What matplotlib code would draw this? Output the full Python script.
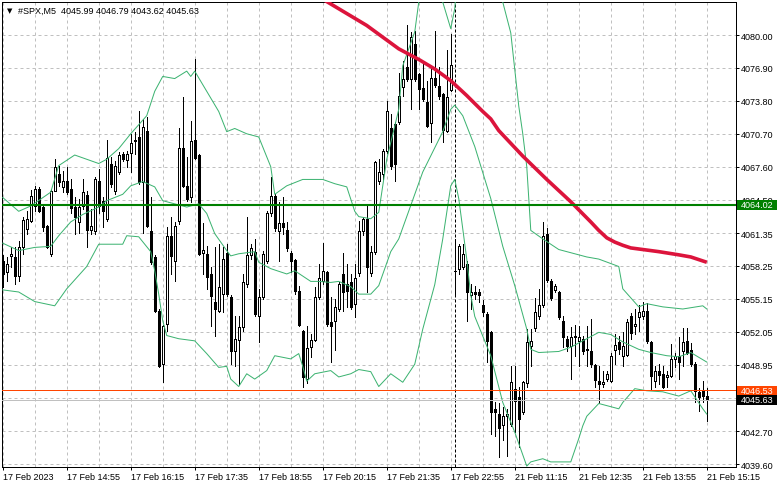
import numpy as np
import matplotlib
matplotlib.use("Agg")
import matplotlib.pyplot as plt
import matplotlib.transforms as mtransforms
from matplotlib.patches import Rectangle

plt.rcParams['font.family'] = ['Liberation Sans', 'DejaVu Sans']

# ---- data (#SPX M5) ----
symbol = "#SPX,M5"
last_ohlc = [4045.99, 4046.79, 4043.62, 4045.63]

opens = [
    4058.7, 4057.7, 4059.2, 4059.1, 4057.3, 4060.0, 4061.7, 4062.5, 4063.9, 4065.5,
    4063.8, 4062.0, 4059.4, 4065.3, 4066.9, 4065.7, 4066.3, 4065.5, 4063.8, 4062.4,
    4063.9, 4064.9, 4061.6, 4061.5, 4066.3, 4064.4, 4062.7, 4067.9, 4065.3, 4067.1,
    4068.8, 4068.2, 4068.9, 4070.1, 4070.4, 4066.2, 4071.0, 4061.5, 4059.1, 4054.0,
    4049.0, 4052.8, 4061.1, 4058.7, 4062.5, 4069.4, 4065.8, 4064.7, 4070.1, 4068.7,
    4059.5, 4059.4, 4057.5, 4054.9, 4054.0, 4055.6, 4059.5, 4055.3, 4050.2, 4051.3,
    4052.5, 4056.6, 4059.3, 4059.6, 4053.5, 4055.3, 4058.7, 4063.2, 4064.8, 4061.5,
    4062.3, 4061.6, 4059.5, 4058.8, 4055.9, 4052.1, 4047.6, 4050.6, 4051.3, 4055.3,
    4056.8, 4057.7, 4053.0, 4053.1, 4054.2, 4057.5, 4056.6, 4056.7, 4054.7, 4057.6,
    4061.5, 4062.7, 4057.6, 4059.6, 4066.3, 4066.9, 4069.1, 4071.2, 4071.6, 4071.8,
    4075.1, 4077.0, 4075.9, 4079.2, 4076.3, 4075.0, 4073.7, 4071.7, 4076.0, 4075.2,
    4074.4, 4071.0, 4074.8, 4057.8, 4058.0, 4058.2, 4058.4, 4055.5, 4055.8, 4055.8,
    4054.6, 4053.7, 4052.0, 4044.8, 4044.3, 4043.3, 4044.1, 4043.4, 4046.7, 4045.9,
    4044.5, 4047.2, 4050.7, 4052.4, 4053.5, 4054.6, 4061.3, 4056.8, 4056.0, 4055.8,
    4053.1, 4051.4, 4050.7, 4051.6, 4051.2, 4051.4, 4050.4, 4050.2, 4048.9, 4047.4,
    4047.1, 4047.6, 4047.4, 4050.3, 4051.1, 4049.8, 4049.9, 4053.5, 4052.6, 4053.4,
    4053.5, 4054.0, 4051.1, 4047.4, 4048.4, 4048.1, 4047.8, 4047.9, 4049.5, 4049.8,
    4050.2, 4051.2, 4050.3, 4049.0, 4046.4, 4046.5, 4045.99,
]
highs = [
    4059.3, 4059.1, 4060.0, 4060.0, 4060.6, 4062.9, 4063.4, 4065.4, 4065.8, 4065.7,
    4064.1, 4062.1, 4065.5, 4068.3, 4067.7, 4067.2, 4067.6, 4066.4, 4064.7, 4064.6,
    4066.4, 4065.3, 4063.6, 4066.6, 4067.4, 4064.7, 4070.1, 4068.5, 4068.1, 4069.0,
    4069.0, 4069.1, 4070.7, 4070.9, 4072.8, 4072.1, 4072.3, 4064.7, 4059.3, 4054.2,
    4052.7, 4061.9, 4062.9, 4062.4, 4071.2, 4074.2, 4068.5, 4071.9, 4077.7, 4068.8,
    4062.3, 4060.1, 4058.2, 4060.0, 4060.3, 4060.0, 4060.3, 4055.5, 4053.5, 4053.5,
    4057.5, 4062.9, 4060.3, 4060.8, 4056.1, 4059.7, 4063.4, 4066.6, 4065.0, 4064.3,
    4064.7, 4062.4, 4059.7, 4058.9, 4056.4, 4052.2, 4052.6, 4051.8, 4056.3, 4058.4,
    4060.4, 4057.8, 4055.3, 4055.1, 4056.7, 4059.5, 4058.4, 4057.5, 4058.4, 4062.5,
    4062.9, 4063.9, 4060.1, 4068.1, 4068.3, 4069.3, 4073.8, 4072.6, 4071.8, 4076.4,
    4077.6, 4080.9, 4080.3, 4080.4, 4076.4, 4077.3, 4075.7, 4077.1, 4080.4, 4077.0,
    4074.5, 4078.6, 4080.1, 4060.8, 4060.3, 4060.3, 4058.7, 4056.6, 4056.4, 4056.1,
    4055.0, 4053.9, 4052.1, 4045.4, 4045.3, 4045.0, 4044.8, 4048.8, 4048.8, 4046.9,
    4047.4, 4052.3, 4052.3, 4055.2, 4056.1, 4062.4, 4061.8, 4057.0, 4056.6, 4055.9,
    4053.5, 4051.7, 4052.5, 4052.7, 4052.6, 4051.7, 4052.6, 4053.3, 4049.0, 4048.8,
    4048.4, 4048.4, 4050.1, 4051.8, 4051.7, 4052.0, 4053.3, 4053.8, 4054.2, 4054.6,
    4054.9, 4054.8, 4051.2, 4048.8, 4049.0, 4048.8, 4048.4, 4050.9, 4050.1, 4051.6,
    4052.4, 4052.4, 4051.0, 4049.2, 4046.8, 4047.4, 4046.79,
]
lows = [
    4056.3, 4056.8, 4058.2, 4056.6, 4056.8, 4059.4, 4061.3, 4062.4, 4063.4, 4063.3,
    4061.5, 4059.9, 4059.2, 4065.3, 4065.8, 4065.2, 4065.0, 4063.2, 4061.3, 4061.4,
    4063.6, 4060.0, 4061.3, 4061.3, 4063.2, 4061.9, 4062.5, 4065.7, 4065.0, 4066.9,
    4068.1, 4067.6, 4067.1, 4068.8, 4066.0, 4061.4, 4061.9, 4058.4, 4053.9, 4048.7,
    4047.3, 4052.1, 4057.5, 4056.8, 4062.2, 4065.7, 4064.4, 4064.3, 4068.3, 4059.3,
    4057.5, 4056.1, 4052.6, 4051.7, 4053.9, 4053.9, 4055.4, 4049.0, 4048.8, 4047.1,
    4052.1, 4056.3, 4058.9, 4053.5, 4051.1, 4055.1, 4058.5, 4063.0, 4061.5, 4058.7,
    4061.3, 4059.7, 4057.7, 4055.6, 4052.6, 4046.9, 4047.2, 4049.7, 4051.2, 4055.1,
    4056.6, 4052.6, 4049.2, 4050.3, 4054.0, 4054.0, 4054.4, 4054.2, 4053.4, 4057.3,
    4061.2, 4055.8, 4057.3, 4059.4, 4066.0, 4066.4, 4068.9, 4067.4, 4066.3, 4071.6,
    4074.3, 4075.7, 4073.0, 4075.7, 4073.0, 4073.8, 4071.3, 4069.9, 4075.1, 4074.0,
    4069.9, 4070.9, 4074.7, 4055.4, 4057.5, 4058.0, 4053.1, 4054.2, 4055.1, 4054.9,
    4053.5, 4049.2, 4042.4, 4042.2, 4040.3, 4041.9, 4040.4, 4043.2, 4042.6, 4041.2,
    4044.3, 4046.9, 4048.8, 4052.1, 4053.3, 4054.4, 4056.7, 4055.0, 4055.8, 4053.3,
    4050.6, 4050.2, 4047.6, 4049.8, 4048.8, 4050.0, 4048.8, 4048.7, 4046.9, 4045.3,
    4046.9, 4047.4, 4047.3, 4049.0, 4050.0, 4048.8, 4049.8, 4051.4, 4051.8, 4052.1,
    4053.3, 4051.0, 4046.7, 4046.9, 4047.1, 4046.8, 4046.9, 4047.8, 4048.7, 4047.6,
    4048.8, 4050.0, 4048.8, 4045.4, 4044.6, 4045.4, 4043.62,
]
closes = [
    4057.5, 4058.4, 4059.4, 4057.3, 4060.0, 4062.6, 4062.7, 4064.8, 4065.5, 4063.4,
    4061.9, 4060.0, 4065.3, 4067.6, 4066.2, 4066.3, 4065.2, 4063.7, 4062.9, 4063.8,
    4065.2, 4061.6, 4062.0, 4066.4, 4063.9, 4063.4, 4068.4, 4066.0, 4067.7, 4068.7,
    4068.3, 4068.8, 4069.8, 4070.0, 4066.2, 4071.3, 4062.0, 4058.6, 4054.0, 4048.8,
    4052.6, 4061.1, 4059.2, 4062.0, 4069.4, 4065.8, 4064.6, 4070.0, 4068.4, 4059.4,
    4059.8, 4057.2, 4055.4, 4054.2, 4056.3, 4058.9, 4055.6, 4050.2, 4051.4, 4052.5,
    4056.7, 4059.3, 4059.9, 4053.7, 4055.3, 4059.4, 4063.2, 4064.8, 4061.8, 4062.3,
    4061.9, 4059.9, 4058.7, 4055.9, 4052.7, 4047.8, 4050.5, 4051.3, 4055.3, 4057.1,
    4057.8, 4052.8, 4052.6, 4054.4, 4056.6, 4055.8, 4055.9, 4054.4, 4057.1, 4061.5,
    4062.7, 4058.2, 4059.6, 4068.0, 4067.1, 4069.1, 4072.8, 4067.7, 4067.9, 4074.3,
    4075.9, 4075.9, 4079.8, 4075.9, 4074.9, 4074.0, 4071.4, 4076.0, 4075.3, 4074.3,
    4071.1, 4074.2, 4077.2, 4057.8, 4060.1, 4059.4, 4055.8, 4055.8, 4055.6, 4055.5,
    4053.9, 4051.2, 4044.5, 4044.5, 4043.0, 4044.1, 4044.3, 4047.3, 4045.5, 4043.8,
    4047.3, 4051.1, 4051.2, 4053.9, 4054.6, 4061.1, 4056.9, 4055.2, 4056.4, 4053.4,
    4051.6, 4050.7, 4051.6, 4051.7, 4051.6, 4050.2, 4050.3, 4049.0, 4047.5, 4047.1,
    4047.3, 4048.1, 4049.8, 4050.8, 4050.4, 4050.7, 4053.0, 4051.9, 4052.8, 4053.9,
    4054.0, 4051.2, 4047.9, 4048.4, 4048.0, 4046.9, 4048.0, 4049.5, 4049.8, 4049.2,
    4051.1, 4050.1, 4049.0, 4046.5, 4045.9, 4046.0, 4045.63,
]

# x tick labels, one every 16 bars
time_labels = ["17 Feb 2023", "17 Feb 14:55", "17 Feb 16:15", "17 Feb 17:35",
               "17 Feb 18:55", "17 Feb 20:15", "17 Feb 21:35", "17 Feb 22:55",
               "21 Feb 11:15", "21 Feb 12:35", "21 Feb 13:55", "21 Feb 15:15"]
price_ticks = ["4080.00", "4076.90", "4073.80", "4070.70", "4067.60", "4064.50",
               "4061.35", "4058.25", "4055.15", "4052.05", "4048.95", "4045.85",
               "4042.70", "4039.60"]
session_break = 113  # first bar of 21 Feb

# Bollinger bands, sampled (bar index, price)
bb_upper_bars = [0, 4, 7, 12, 14, 18, 24, 26, 29, 32, 36, 38, 40, 43, 46, 47, 48, 51,
                 54, 56, 58, 61, 63, 64, 67, 68, 71, 75, 80, 83, 86, 88, 89, 92, 94,
                 96, 99, 100, 103, 104, 106, 108, 110, 112, 113, 115, 118, 121, 124,
                 125, 127, 129, 130, 131, 132, 135, 139, 146, 149, 154, 155, 159, 161,
                 165, 170, 175, 176]
bb_upper = [4064.7, 4063.4, 4063.9, 4065.2, 4067.7, 4068.7, 4067.9, 4068.3, 4069.3,
            4070.7, 4072.4, 4074.7, 4076.1, 4075.9, 4076.6, 4076.1, 4076.6, 4074.7,
            4072.8, 4070.9, 4071.2, 4070.7, 4070.5, 4070.4, 4067.6, 4065.0, 4065.8,
            4066.4, 4066.4, 4066.0, 4065.7, 4063.4, 4062.9, 4062.7, 4063.3, 4068.3,
            4073.0, 4077.1, 4080.3, 4083.1, 4085.5, 4085.0, 4083.1, 4080.6, 4082.5,
            4092.0, 4094.0, 4092.0, 4086.0, 4083.1, 4080.2, 4073.3, 4070.7, 4067.6,
            4061.6, 4060.8, 4059.8, 4059.1, 4058.9, 4058.2, 4056.1, 4054.4, 4054.7,
            4054.4, 4054.2, 4054.5, 4054.2]
bb_mid_bars = [0, 4, 8, 12, 14, 17, 20, 24, 26, 30, 32, 35, 38, 40, 43, 46, 49, 51, 53,
               56, 57, 59, 63, 64, 67, 71, 73, 75, 77, 79, 82, 84, 87, 89, 92, 94, 97,
               99, 105, 110, 112, 113, 115, 118, 122, 125, 128, 131, 132, 134, 139,
               142, 146, 149, 152, 155, 159, 162, 166, 169, 172, 176]
bb_mid = [4060.4, 4059.7, 4060.0, 4060.1, 4061.1, 4062.4, 4063.1, 4063.8, 4064.4,
          4065.0, 4065.8, 4066.2, 4065.7, 4064.4, 4064.1, 4063.8, 4064.1, 4063.2,
          4061.3, 4059.7, 4059.2, 4059.4, 4059.6, 4058.6, 4058.0, 4057.5, 4057.8,
          4057.3, 4056.8, 4056.8, 4056.7, 4056.8, 4056.3, 4055.6, 4055.6, 4056.4,
          4059.6, 4060.8, 4067.1, 4070.9, 4073.0, 4073.4, 4072.4, 4069.5, 4064.6,
          4060.1, 4056.4, 4052.3, 4050.4, 4050.1, 4050.2, 4050.6, 4051.4, 4052.0,
          4051.8, 4051.1, 4050.4, 4050.1, 4049.8, 4049.7, 4050.1, 4049.2]
bb_lower_bars = [0, 4, 8, 13, 16, 21, 24, 30, 31, 34, 37, 38, 39, 40, 41, 44, 48, 51,
                 54, 56, 57, 59, 61, 63, 66, 68, 72, 74, 75, 76, 78, 82, 84, 87, 89,
                 92, 94, 97, 100, 103, 105, 108, 110, 112, 113, 114, 116, 117, 118,
                 122, 125, 128, 131, 132, 135, 137, 142, 144, 145, 146, 149, 154, 155,
                 158, 161, 165, 169, 172, 175, 176]
bb_lower = [4056.0, 4055.8, 4054.9, 4054.5, 4056.1, 4058.2, 4060.3, 4060.3, 4061.1,
            4061.0, 4059.6, 4057.8, 4055.6, 4053.1, 4051.7, 4051.4, 4051.2, 4050.0,
            4048.7, 4048.8, 4047.6, 4046.9, 4048.1, 4047.6, 4048.4, 4049.8, 4049.5,
            4050.0, 4048.8, 4047.4, 4048.1, 4048.4, 4047.8, 4048.1, 4048.5, 4048.3,
            4046.9, 4048.1, 4047.3, 4049.0, 4052.3, 4056.5, 4060.8, 4065.8, 4066.4,
            4064.6, 4058.9, 4055.5, 4053.5, 4049.8, 4045.4, 4042.6, 4039.4, 4039.8,
            4040.1, 4039.8, 4039.8, 4042.0, 4043.2, 4044.1, 4045.3, 4044.8, 4045.4,
            4046.7, 4046.5, 4046.4, 4046.0, 4046.5, 4044.8, 4044.3]
# slow moving average (red)
ma_bars = [79, 87, 91, 95, 99, 104, 108, 112, 116, 120, 122, 124, 130, 136, 142, 147,
           149, 151, 153, 155, 157, 160, 164, 169, 172, 176]
ma_vals = [4083.6, 4081.8, 4080.9, 4079.8, 4078.7, 4077.7, 4076.8, 4075.7, 4074.3,
           4072.8, 4072.1, 4071.0, 4068.6, 4066.4, 4064.3, 4062.4, 4061.6, 4060.9,
           4060.5, 4060.2, 4059.95, 4059.8, 4059.6, 4059.3, 4059.1, 4058.6]

level_line = 4064.02
ask_line = 4046.53
bid_line = 4045.63

# ---- figure ----
W, H = 781, 489
fig = plt.figure(figsize=(W / 100, H / 100), dpi=100)
ax = fig.add_axes([2 / W, 21 / H, 734 / W, 465 / H])
fs = 6.5
px = 0.72  # one pixel in points

o = np.array(opens)
h = np.array(highs)
l = np.array(lows)
c = np.array(closes)
x = np.arange(len(o))
bull = c >= o

ax.vlines(x, l, h, color="black", lw=px, zorder=2, antialiased=False)
bottom = np.minimum(o, c)
height = np.abs(c - o)
ax.bar(x[bull], height[bull], bottom=bottom[bull], width=0.55, facecolor="white",
       edgecolor="black", lw=px, zorder=3, antialiased=False)
ax.bar(x[~bull], height[~bull], bottom=bottom[~bull], width=0.55, facecolor="black",
       edgecolor="black", lw=px, zorder=3, antialiased=False)

bb_color = "#3CB371"
ax.plot(bb_upper_bars, bb_upper, color=bb_color, lw=px, zorder=4)
ax.plot(bb_mid_bars, bb_mid, color=bb_color, lw=px, zorder=4)
ax.plot(bb_lower_bars, bb_lower, color=bb_color, lw=px, zorder=4)
ax.plot(ma_bars, ma_vals, color="#DC143C", lw=2.6, zorder=4.5, solid_capstyle="butt",
        solid_joinstyle="round")

ax.axhline(level_line, color="#008000", lw=1.5, zorder=5)
ax.axhline(ask_line, color="#FF4500", lw=px, zorder=5)
ax.axhline(bid_line, color="#C0C0C0", lw=px, zorder=5)
ax.axvline(session_break, color="black", lw=px, ls=(0, (3, 2)), zorder=2.5)

ax.set_xlim(-0.175, 183.3)
ax.set_ylim(4039.32, 4083.11)

# axes / ticks
ax.set_xticks(np.arange(0, len(o), 16))
ax.set_xticklabels(time_labels)
for lbl in ax.get_xticklabels():
    lbl.set_horizontalalignment("left")
ax.set_xticks(np.arange(0, len(o) + 1, 8), minor=True)
ax.yaxis.tick_right()
ax.set_yticks([float(t) for t in price_ticks])
ax.set_yticklabels(price_ticks)
ax.tick_params(axis="both", which="major", labelsize=fs, length=2.2, width=px,
               color="black", pad=1.3)
ax.tick_params(axis="x", which="minor", length=0)
grid_kw = dict(color="#C0C0C0", lw=px, ls=(0, (3, 3)))
ax.xaxis.grid(True, which="both", **grid_kw)
ax.yaxis.grid(True, which="major", **grid_kw)
ax.set_axisbelow(True)
for sp in ax.spines.values():
    sp.set_color("black")
    sp.set_linewidth(px)

# price tags on the right scale
trans = mtransforms.blended_transform_factory(ax.transAxes, ax.transData)
for price, color in [(level_line, "#008000"), (ask_line, "#FF4500"), (bid_line, "black")]:
    ax.add_patch(Rectangle((1 + 1 / 734, price - 0.46), 40 / 734, 0.92, transform=trans,
                           facecolor=color, edgecolor="none", clip_on=False, zorder=6))
    ax.text(1 + 4.7 / 734, price, f"{price:.2f}", transform=trans, color="white",
            ha="left", va="center", fontsize=fs, clip_on=False, zorder=7)

# header
fig.text(7 / W, 1 - 11 / H, "\u25bc", fontsize=5, ha="left", va="center",
         family=["DejaVu Sans"])
fig.text(18 / W, 1 - 11 / H,
         f"{symbol}  " + " ".join(f"{v:.2f}" for v in last_ohlc),
         fontsize=fs, ha="left", va="center")

fig.savefig("out.png", dpi=100)
